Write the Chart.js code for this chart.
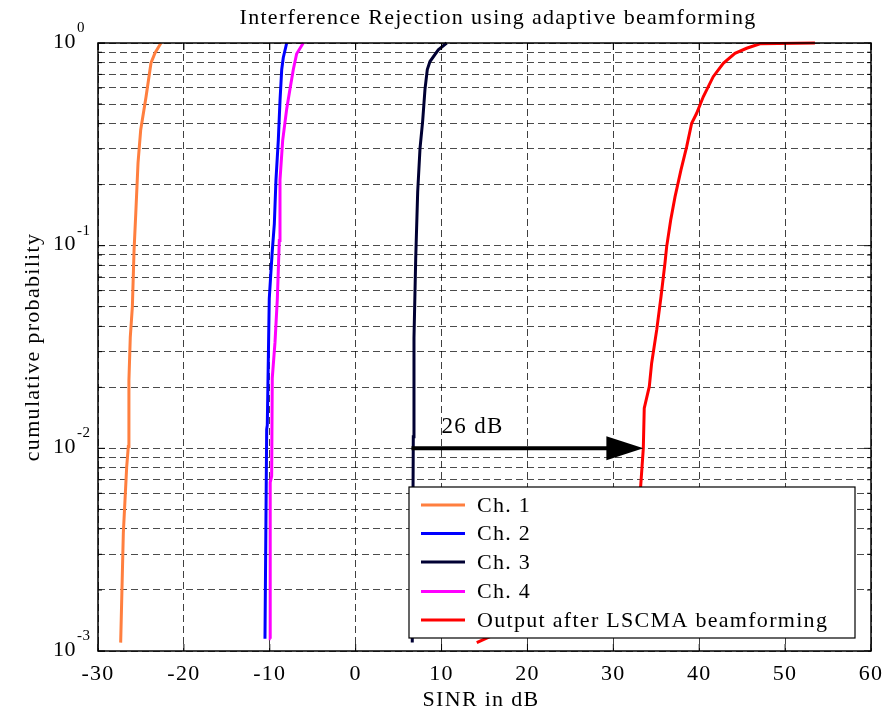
<!DOCTYPE html>
<html>
<head>
<meta charset="utf-8">
<title>Interference Rejection using adaptive beamforming</title>
<script src="https://cdn.jsdelivr.net/npm/chart.js@4.4.1/dist/chart.umd.min.js"></script>
<style>
  html, body { margin: 0; padding: 0; background: #fff; }
  canvas { display: block; }
</style>
</head>
<body>
<canvas id="cdf" width="895" height="715"></canvas>
<script>
// SINR (dB) / cumulative probability, one pair of arrays per curve
const ch1Sinr = [-27.36, -27.05, -26.66, -26.47, -26.4, -26.24, -26.0, -25.8, -25.6, -25.34, -25.03, -24.41, -23.83, -23.36, -22.67];
const ch1Prob = [0.0011, 0.00383, 0.0081, 0.0102, 0.0217, 0.0355, 0.0499, 0.0953, 0.145, 0.256, 0.372, 0.542, 0.797, 0.893, 1];

const ch2Sinr = [-10.56, -10.36, -10.29, -10.06, -9.89, -9.71, -9.47, -9.28, -9.01, -8.81, -8.61, -8.43, -8.03];
const ch2Prob = [0.00115, 0.0124, 0.013, 0.0547, 0.0716, 0.094, 0.128, 0.211, 0.33, 0.518, 0.74, 0.846, 1];

const ch3Sinr = [6.59, 6.71, 6.79, 6.99, 7.22, 7.49, 7.80, 8.07, 8.34, 8.65, 9.62, 10.60];
const ch3Prob = [0.0011, 0.0114, 0.0351, 0.086, 0.184, 0.301, 0.412, 0.591, 0.74, 0.81, 0.926, 1];

const ch4Sinr = [-9.89, -9.93, -9.97, -9.78, -9.71, -9.39, -9.12, -8.89, -8.81, -8.50, -8.03, -7.65, -7.26, -6.87, -6.10];
const ch4Prob = [0.00115, 0.004, 0.0068, 0.00729, 0.0222, 0.0334, 0.0547, 0.106, 0.211, 0.33, 0.473, 0.591, 0.74, 0.885, 1];

const outSinr = [14.1, 22.5, 30.5, 33.18, 33.49, 33.60, 34.19, 34.46, 35.05, 35.55, 36.01, 36.21, 36.68, 37.18, 37.87, 38.54, 39.12, 39.70, 40.47, 41.63, 42.80, 44.16, 45.52, 47.07, 53.47];
const outProb = [0.0011, 0.0016, 0.0035, 0.00647, 0.01, 0.0158, 0.0202, 0.0263, 0.0384, 0.056, 0.0819, 0.0989, 0.134, 0.174, 0.236, 0.308, 0.402, 0.45, 0.543, 0.682, 0.794, 0.89, 0.942, 0.992, 1];

const seriesNames = ['Ch. 1', 'Ch. 2', 'Ch. 3', 'Ch. 4', 'Output after LSCMA beamforming'];
const seriesColors = ['#ff7f3f', '#0000ff', '#000033', '#ff00ff', '#ff0000'];

// axes
const sinrTicks = [-30, -20, -10, 0, 10, 20, 30, 40, 50, 60];
const probDecades = [0.001, 0.01, 0.1, 1];
const decadeExp = ['-3', '-2', '-1', '0'];

// annotation arrow
const arrowFrom = 6.5;
const arrowTo = 33.5;
const arrowProb = 0.01;
const arrowLabel = '26 dB';

const SERIF = "'Liberation Serif', 'Times New Roman', serif";
const SPACING = '1.3px';

// log grid: 1..9 x each decade
const probGrid = [];
probDecades.slice(0, -1).forEach(d => {
  for (let m = 1; m < 10; m++) probGrid.push(+(d * m).toPrecision(3));
});
probGrid.push(1);

function toPoints(xs, ys) {
  return xs.map((x, i) => ({ x: x, y: ys[i] }));
}

const allSinr = [ch1Sinr, ch2Sinr, ch3Sinr, ch4Sinr, outSinr];
const allProb = [ch1Prob, ch2Prob, ch3Prob, ch4Prob, outProb];

const datasets = seriesNames.map((name, i) => ({
  label: name,
  data: toPoints(allSinr[i], allProb[i]),
  borderColor: seriesColors[i],
  backgroundColor: seriesColors[i],
  borderWidth: 3,
  pointRadius: 0,
  tension: 0,
  fill: false,
  clip: 3,
}));

// everything MATLAB-ish that Chart.js doesn't draw by itself
const decorPlugin = {
  id: 'decor',
  beforeDraw(chart) {
    // spaced-out lettering like the exported figure (also used by the tick labels)
    chart.ctx.letterSpacing = SPACING;
  },
  afterDatasetsDraw(chart) {
    const { ctx, chartArea: a, scales } = chart;
    const xs = scales.x, ys = scales.y;

    ctx.save();
    ctx.letterSpacing = SPACING;

    // arrow + label
    const ay = ys.getPixelForValue(arrowProb);
    const ax0 = xs.getPixelForValue(arrowFrom);
    const ax1 = xs.getPixelForValue(arrowTo);
    ctx.strokeStyle = '#000';
    ctx.fillStyle = '#000';
    ctx.lineWidth = 4;
    ctx.beginPath();
    ctx.moveTo(ax0, ay);
    ctx.lineTo(ax1 - 30, ay);
    ctx.stroke();
    ctx.beginPath();
    ctx.moveTo(ax1, ay);
    ctx.lineTo(ax1 - 37, ay - 12);
    ctx.lineTo(ax1 - 37, ay + 12);
    ctx.closePath();
    ctx.fill();
    ctx.font = '23px ' + SERIF;
    ctx.textAlign = 'left';
    ctx.textBaseline = 'alphabetic';
    ctx.fillText(arrowLabel, ax0 + 30, ay - 15);

    // legend box inside the axes
    const lx = 409, ly = 487, lw = 446, lh = 151;
    ctx.fillStyle = '#fff';
    ctx.fillRect(lx, ly, lw, lh);
    ctx.lineWidth = 1.2;
    ctx.strokeStyle = '#000';
    ctx.strokeRect(lx, ly, lw, lh);
    const rows = [505, 533.5, 562, 591.5, 620];
    ctx.font = '22px ' + SERIF;
    ctx.textBaseline = 'middle';
    seriesNames.forEach((name, i) => {
      ctx.strokeStyle = seriesColors[i];
      ctx.lineWidth = 3;
      ctx.beginPath();
      ctx.moveTo(421, rows[i]);
      ctx.lineTo(465, rows[i]);
      ctx.stroke();
      ctx.fillStyle = '#000';
      ctx.fillText(name, 477, rows[i] + 1);
    });

    // axes frame
    ctx.strokeStyle = '#000';
    ctx.lineWidth = 1.5;
    ctx.strokeRect(a.left, a.top, a.right - a.left, a.bottom - a.top);

    // inward tick marks
    ctx.lineWidth = 1;
    sinrTicks.forEach(v => {
      const px = xs.getPixelForValue(v);
      ctx.beginPath();
      ctx.moveTo(px, a.bottom); ctx.lineTo(px, a.bottom - 7);
      ctx.moveTo(px, a.top); ctx.lineTo(px, a.top + 7);
      ctx.stroke();
    });
    probGrid.forEach(v => {
      const py = ys.getPixelForValue(v);
      const len = probDecades.includes(v) ? 7 : 4;
      ctx.beginPath();
      ctx.moveTo(a.left, py); ctx.lineTo(a.left + len, py);
      ctx.moveTo(a.right, py); ctx.lineTo(a.right - len, py);
      ctx.stroke();
    });

    // y tick labels as 10^k
    ctx.fillStyle = '#000';
    ctx.textBaseline = 'middle';
    probDecades.forEach((v, i) => {
      const py = ys.getPixelForValue(v);
      ctx.letterSpacing = '0.5px';
      ctx.font = '22px ' + SERIF;
      ctx.textAlign = 'right';
      ctx.fillText('10', a.left - 22, py - 1);
      ctx.font = '15px ' + SERIF;
      ctx.textAlign = 'left';
      ctx.fillText(decadeExp[i], a.left - 21, py - 15);
    });

    // title and axis titles
    ctx.letterSpacing = SPACING;
    ctx.textAlign = 'center';
    ctx.font = '22px ' + SERIF;
    ctx.fillText('Interference Rejection using adaptive beamforming', 498, 18);
    ctx.fillText('SINR in dB', 481, 700);
    ctx.translate(33, 347);
    ctx.rotate(-Math.PI / 2);
    ctx.fillText('cumulative probability', 0, 0);
    ctx.restore();
  }
};

new Chart(document.getElementById('cdf'), {
  type: 'line',
  data: { datasets: datasets },
  options: {
    responsive: false,
    animation: false,
    parsing: false,
    layout: { padding: { top: 43, right: 24, left: 0, bottom: 0 } },
    plugins: {
      legend: { display: false },
      title: { display: false },
      tooltip: { enabled: false },
    },
    scales: {
      x: {
        type: 'linear',
        min: -30,
        max: 60,
        afterBuildTicks: scale => { scale.ticks = sinrTicks.map(v => ({ value: v })); },
        afterFit: scale => { scale.height = 64; },
        ticks: {
          color: '#000',
          font: { family: SERIF, size: 22 },
          padding: 10,
          maxRotation: 0,
        },
        grid: { color: 'rgba(0,0,0,0.75)', lineWidth: 1, drawTicks: false },
        border: { display: false, dash: [7, 4] },
      },
      y: {
        type: 'logarithmic',
        min: 0.001,
        max: 1,
        afterBuildTicks: scale => { scale.ticks = probGrid.map(v => ({ value: v })); },
        afterFit: scale => { scale.width = 98; },
        ticks: { callback: () => '' },
        grid: { color: 'rgba(0,0,0,0.7)', lineWidth: 1, drawTicks: false },
        border: { display: false, dash: [7, 4] },
      },
    },
  },
  plugins: [decorPlugin],
});
</script>
</body>
</html>
